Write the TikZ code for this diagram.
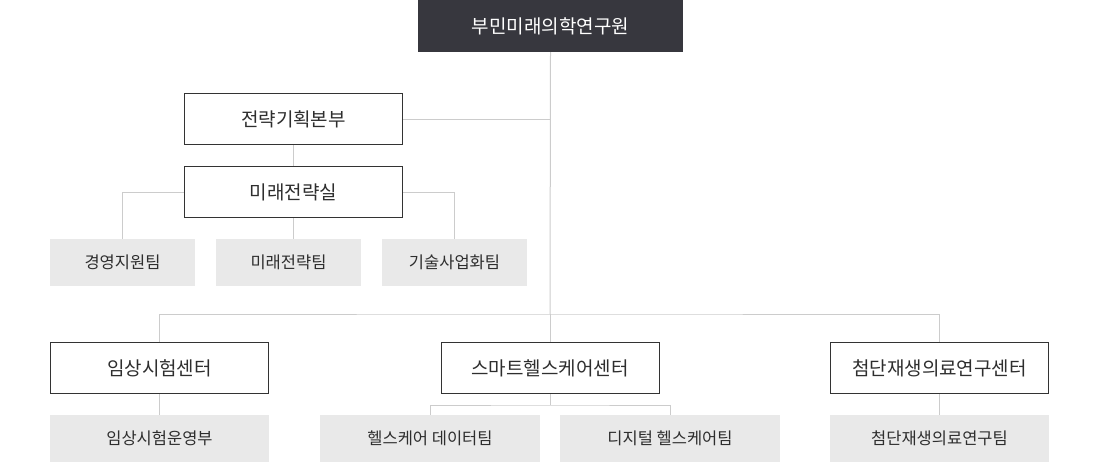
\documentclass[tikz,border=0pt]{standalone}
\usepackage{fontspec}
\setmainfont{Noto Sans CJK KR}
\definecolor{topc}{HTML}{37373E}
\definecolor{edgec}{HTML}{333333}
\definecolor{greyc}{HTML}{E9E9E9}
\definecolor{linec}{HTML}{CCCCCC}
\definecolor{textc}{HTML}{2E2E2E}
\begin{document}
\begin{tikzpicture}[x=1pt,y=-1pt,
  topbox/.style={fill=topc, text=white, minimum width=265, minimum height=52, inner sep=0, font=\fontsize{19}{22}\selectfont},
  mainbox/.style={draw=edgec, line width=1pt, fill=white, text=textc, minimum width=218, minimum height=51, inner sep=0, font=\fontsize{19}{22}\selectfont},
  subbox/.style={fill=greyc, text=textc, minimum height=47, inner sep=0, font=\fontsize{16.5}{19}\selectfont},
  conn/.style={draw=linec, line width=1pt}]
\useasboundingbox (0,0) rectangle (1100,463);
\node[topbox] (top) at (550.5,26) {부민미래의학연구원};
\node[mainbox] (plan) at (293.5,119) {전략기획본부};
\node[mainbox] (future) at (293.5,192) {미래전략실};
\node[subbox, minimum width=145] (t1) at (122.5,262.5) {경영지원팀};
\node[subbox, minimum width=145] (t2) at (288.5,262.5) {미래전략팀};
\node[subbox, minimum width=145] (t3) at (454.5,262.5) {기술사업화팀};
\node[mainbox] (c1) at (159.5,368) {임상시험센터};
\node[mainbox] (c2) at (550,368) {스마트헬스케어센터};
\node[mainbox] (c3) at (939.5,368) {첨단재생의료연구센터};
\node[subbox, minimum width=219] (b1) at (159.5,438.5) {임상시험운영부};
\node[subbox, minimum width=220] (b2) at (430,438.5) {헬스케어 데이터팀};
\node[subbox, minimum width=220] (b3) at (670,438.5) {디지털 헬스케어팀};
\node[subbox, minimum width=219] (b4) at (939.5,438.5) {첨단재생의료연구팀};
\coordinate (hub) at (550,314);
\coordinate (split) at (550,405);
\draw[conn] (top.south) -- (hub);
\draw[conn] (plan.east) -- (plan.east -| hub);
\draw[conn] (plan.south) -- (future.north);
\draw[conn] (future.west) -| (t1.north);
\draw[conn] (future.east) -| (t3.north);
\draw[conn] (future.south) -- (future.south |- t2.north);
\draw[conn] (c1.north) |- (hub) -| (c3.north);
\draw[conn] (hub) -- (c2.north);
\draw[conn] (c1.south) -- (b1.north);
\draw[conn] (c3.south) -- (b4.north);
\draw[conn] (c2.south) -- (split);
\draw[conn] (b2.north) |- (split) -| (b3.north);
\end{tikzpicture}
\end{document}
